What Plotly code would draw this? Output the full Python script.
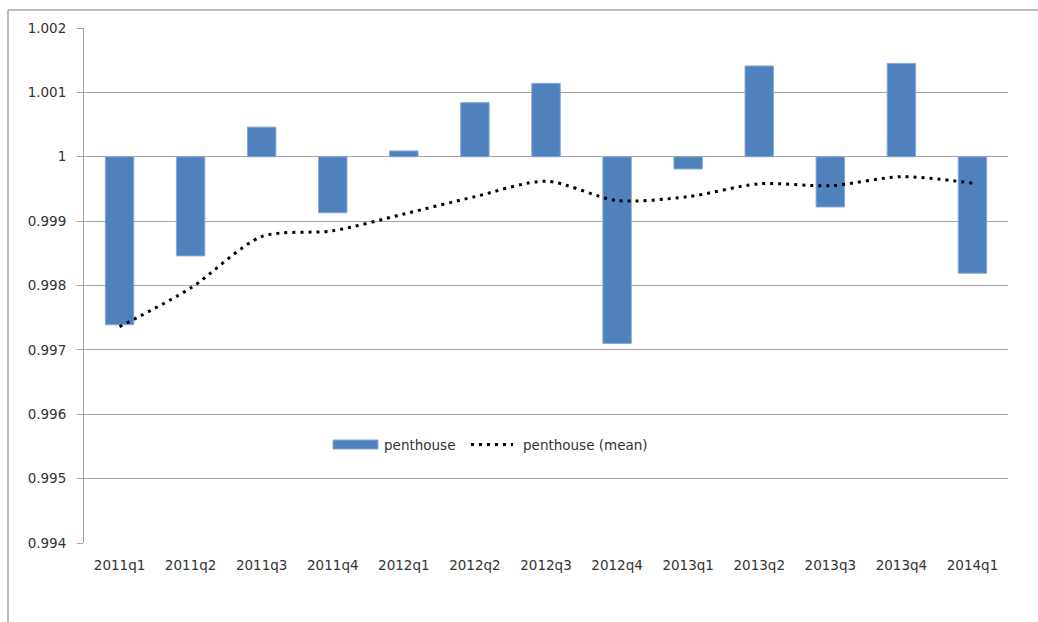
import plotly.graph_objects as go

# Quarterly index for penthouse units, plotted around a baseline of 1
quarters = ["2011q1", "2011q2", "2011q3", "2011q4", "2012q1", "2012q2", "2012q3",
            "2012q4", "2013q1", "2013q2", "2013q3", "2013q4", "2014q1"]
penthouse = [0.99739, 0.99846, 1.00046, 0.99913, 1.00009, 1.00084, 1.00114,
             0.99710, 0.99981, 1.00141, 0.99922, 1.00145, 0.99819]
penthouse_mean = [0.99736, 0.99796, 0.99876, 0.99885, 0.99911, 0.99938, 0.99962,
                  0.99932, 0.99938, 0.99958, 0.99955, 0.99969, 0.99959]

baseline = 1.0
y_ticks = [0.994, 0.995, 0.996, 0.997, 0.998, 0.999, 1.0, 1.001, 1.002]
y_tick_text = ["0.994", "0.995", "0.996", "0.997", "0.998", "0.999", "1", "1.001", "1.002"]

BAR_BLUE = "#4F81BD"
GRID = "#A3A3A3"
TEXT = "#333333"
FONT = "DejaVu Sans"

fig = go.Figure()

fig.add_trace(go.Bar(
    x=quarters,
    y=[v - baseline for v in penthouse],
    base=baseline,
    name="penthouse",
    marker=dict(color=BAR_BLUE, line=dict(color="#86A9D6", width=1)),
    showlegend=False,
))

fig.add_trace(go.Scatter(
    x=quarters,
    y=penthouse_mean,
    mode="lines",
    name="penthouse (mean)",
    line=dict(color="black", width=3, dash="3px,5px", shape="spline", smoothing=0.8),
    showlegend=False,
))

# Pixel geometry of the plot area
W, H = 1038, 622
ML, MR, MT, MB = 84, 30, 28, 79
PW, PH = W - ML - MR, H - MT - MB


def px_x(px):
    return (px - ML) / PW


def px_y(py):
    return (H - MB - py) / PH


shapes = [
    # chart frame (left and top edges)
    dict(type="line", xref="paper", yref="paper",
         x0=px_x(8), x1=px_x(8), y0=px_y(10), y1=px_y(630),
         line=dict(color="#BDBDBD", width=2)),
    dict(type="line", xref="paper", yref="paper",
         x0=px_x(8), x1=px_x(1045), y0=px_y(10), y1=px_y(10),
         line=dict(color="#BDBDBD", width=2)),
    # legend swatches
    dict(type="rect", xref="paper", yref="paper",
         x0=px_x(333), x1=px_x(378), y0=px_y(440), y1=px_y(449),
         fillcolor=BAR_BLUE, line=dict(color="#86A9D6", width=1)),
    dict(type="line", xref="paper", yref="paper",
         x0=px_x(471), x1=px_x(513), y0=px_y(444.5), y1=px_y(444.5),
         line=dict(color="black", width=3, dash="3px,5px")),
]

annotations = [
    dict(text="penthouse", xref="paper", yref="paper", x=px_x(382), y=px_y(444.5),
         xanchor="left", yanchor="middle", showarrow=False,
         font=dict(family=FONT, size=13.5, color=TEXT)),
    dict(text="penthouse (mean)", xref="paper", yref="paper", x=px_x(521), y=px_y(444.5),
         xanchor="left", yanchor="middle", showarrow=False,
         font=dict(family=FONT, size=13.5, color=TEXT)),
]

n = len(quarters)
fig.update_layout(
    width=W, height=H,
    margin=dict(l=ML, r=MR, t=MT, b=MB),
    paper_bgcolor="white",
    plot_bgcolor="white",
    bargap=0.6,
    font=dict(family=FONT, size=13.5, color=TEXT),
    shapes=shapes,
    annotations=annotations,
    xaxis=dict(
        type="category",
        range=[-0.5, n - 0.5],
        showline=False, showgrid=False, zeroline=False,
        ticks="", ticklabelstandoff=12,
        tickfont=dict(family=FONT, size=13.5, color=TEXT),
    ),
    # category axis line crossing at y = 1, with tick marks between categories
    xaxis2=dict(
        overlaying="x", anchor="free",
        position=(baseline - y_ticks[0]) / (y_ticks[-1] - y_ticks[0]),
        side="bottom",
        range=[-0.5, n - 0.5],
        tickmode="array",
        tickvals=[i - 0.5 for i in range(n + 1)],
        showticklabels=False,
        ticks="outside", ticklen=6, tickcolor=GRID, tickwidth=1,
        showline=True, linecolor=GRID, linewidth=1,
        showgrid=False, zeroline=False,
    ),
    yaxis=dict(
        range=[y_ticks[0], y_ticks[-1]],
        tickmode="array", tickvals=y_ticks, ticktext=y_tick_text,
        showgrid=True, gridcolor=GRID, gridwidth=1,
        showline=True, linecolor=GRID, linewidth=1,
        ticks="outside", ticklen=6, tickcolor=GRID,
        ticklabelstandoff=8,
        zeroline=False,
        tickfont=dict(family=FONT, size=13.5, color=TEXT),
    ),
)

fig.write_html("out.html")
